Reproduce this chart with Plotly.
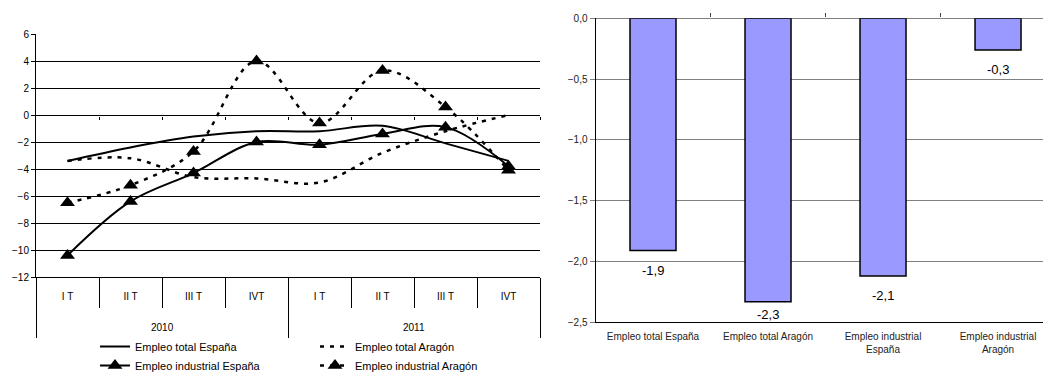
import plotly.graph_objects as go

# ---------------- data ----------------
years = ["2010"] * 4 + ["2011"] * 4
quarters = ["I T", "II T", "III T", "IVT"] * 2

total_es = [-3.4, -2.4, -1.6, -1.2, -1.2, -0.8, -2.1, -3.4]
total_ar = [-3.4, -3.2, -4.6, -4.7, -5.0, -2.8, -1.2, 0.0]
ind_es = [-10.4, -6.4, -4.3, -2.0, -2.2, -1.4, -0.9, -3.8]
ind_ar = [-6.5, -5.2, -2.7, 4.0, -0.6, 3.3, 0.6, -4.1]

bar_cats = ["Empleo total España", "Empleo total Aragón",
            "Empleo industrial<br>España", "Empleo industrial<br>Aragón"]
bar_values = [-1.91, -2.33, -2.12, -0.26]

FONT = "Arial, Liberation Sans, sans-serif"
W, H = 1043, 376

n = len(quarters)
xi = list(range(n))                              # category positions on the left chart
bounds_inner = [i + 0.5 for i in range(n - 1)]   # boundaries between quarters
year_names = sorted(set(years))
year_idx = {y: [i for i in xi if years[i] == y] for y in year_names}
bounds_outer = [-0.5] + [max(year_idx[y]) + 0.5 for y in year_names]

fig = go.Figure()

fig.add_trace(go.Scatter(x=xi, y=total_es, name="Empleo total España", mode="lines",
                         line=dict(color="black", width=2, shape="spline"),
                         legend="legend", xaxis="x", yaxis="y"))
fig.add_trace(go.Scatter(x=xi, y=ind_es, name="Empleo industrial España", mode="lines+markers",
                         line=dict(color="black", width=2, shape="spline"),
                         marker=dict(symbol="triangle-up", size=13, color="black"),
                         legend="legend", xaxis="x", yaxis="y"))
fig.add_trace(go.Scatter(x=xi, y=total_ar, name="Empleo total Aragón", mode="lines",
                         line=dict(color="black", width=2.5, shape="spline", dash="4px,6px"),
                         legend="legend2", xaxis="x", yaxis="y"))
fig.add_trace(go.Scatter(x=xi, y=ind_ar, name="Empleo industrial Aragón", mode="lines+markers",
                         line=dict(color="black", width=2.5, shape="spline", dash="4px,6px"),
                         marker=dict(symbol="triangle-up", size=13, color="black"),
                         legend="legend2", xaxis="x", yaxis="y"))

# empty traces that carry the tick-only helper axes
for ax, yax in [("x3", "y"), ("x5", "y"), ("x6", "y"), ("x4", "y2")]:
    fig.add_trace(go.Scatter(x=[], y=[], xaxis=ax, yaxis=yax, showlegend=False, hoverinfo="skip"))

fig.add_trace(go.Bar(x=bar_cats, y=bar_values, xaxis="x2", yaxis="y2", showlegend=False,
                     marker=dict(color="#9999FF", line=dict(color="black", width=1.5))))

# right chart pixel geometry (value labels kept inside the plot area like Excel does)
R_TOP, R_BOT = 18.3, 322.3
R_MIN, R_MAX = -2.5, 0.0
px_per_unit = (R_BOT - R_TOP) / (R_MAX - R_MIN)
for c, v in zip(bar_cats, bar_values):
    room = (v - R_MIN) * px_per_unit
    shift = -min(10, max(room - 17, 0))
    fig.add_annotation(x=c, y=v, xref="x2", yref="y2", text=f"{v:.1f}".replace(".", ","),
                       showarrow=False, yanchor="top", yshift=shift,
                       font=dict(size=13, color="black", family=FONT))

# year labels (outer level of the left category axis)
for y in year_names:
    idx = year_idx[y]
    fig.add_annotation(x=sum(idx) / len(idx), y=(H - 327) / H, xref="x", yref="paper",
                       text=y, showarrow=False, yanchor="middle",
                       font=dict(size=10, color="black", family=FONT))

y0_left = (H - 115.7) / H
L_DOM = [36 / W, 540 / W]
XR = [-0.5, n - 0.5]

fig.update_layout(
    width=W, height=H,
    margin=dict(l=0, r=0, t=0, b=0, autoexpand=False),
    paper_bgcolor="white", plot_bgcolor="white",
    separators=",.",
    font=dict(family=FONT, size=10, color="black"),
    bargap=0.6,
    # main left x axis: bottom line + quarter boundary ticks
    xaxis=dict(domain=L_DOM, anchor="y", type="linear", range=XR, automargin=False,
               showline=True, linecolor="black", linewidth=1,
               tickvals=bounds_inner, ticks="outside", ticklen=30, tickcolor="black",
               showticklabels=False, showgrid=False, zeroline=False),
    # quarter labels
    xaxis5=dict(overlaying="x", anchor="y", type="linear", range=XR, automargin=False,
                tickvals=xi, ticktext=quarters, ticks="", ticklabelstandoff=12,
                showline=False, showgrid=False, zeroline=False,
                tickfont=dict(size=10, color="black")),
    # year dividers
    xaxis6=dict(overlaying="x", anchor="y", type="linear", range=XR, automargin=False,
                tickvals=bounds_outer, ticks="outside", ticklen=60, tickcolor="black",
                showticklabels=False, showline=False, showgrid=False, zeroline=False),
    yaxis=dict(domain=[(H - 277) / H, (H - 34) / H], anchor="x", range=[-12, 6], dtick=2,
               automargin=False,
               showgrid=True, gridcolor="black", gridwidth=1, zeroline=False,
               showline=True, linecolor="black", ticks="outside", ticklen=4, tickcolor="black",
               tickfont=dict(size=10, color="black")),
    # small ticks on the zero line
    xaxis3=dict(overlaying="x", anchor="free", position=y0_left, type="linear", automargin=False,
                range=XR, tickvals=bounds_inner + [n - 0.5],
                ticks="outside", ticklen=3, tickcolor="black", showticklabels=False,
                showgrid=False, showline=False, zeroline=False),
    xaxis2=dict(domain=[595.5 / W, 1.0], anchor="y2", type="category", range=[-0.5, 3.391],
                automargin=False, ticklabelstandoff=5,
                showline=True, linecolor="black", linewidth=1, ticks="", showgrid=False,
                tickfont=dict(size=10, color="#222222")),
    yaxis2=dict(domain=[(H - R_BOT) / H, (H - R_TOP) / H], anchor="x2", range=[R_MIN, R_MAX],
                dtick=0.5, automargin=False,
                tickformat=".1f", showgrid=True, gridcolor="#808080", gridwidth=1,
                zeroline=True, zerolinecolor="#808080", zerolinewidth=1,
                showline=True, linecolor="black", ticks="outside", ticklen=5, tickcolor="#808080",
                tickfont=dict(size=10, color="#222222")),
    xaxis4=dict(overlaying="x2", anchor="y2", side="top", type="linear", range=[-0.5, 3.391],
                automargin=False,
                tickvals=[0.5, 1.5, 2.5], ticks="outside", ticklen=4, tickcolor="#404040",
                showticklabels=False, showgrid=False, showline=False, zeroline=False),
    legend=dict(x=95 / W, y=(H - 332) / H, xanchor="left", yanchor="top",
                orientation="v", bgcolor="rgba(0,0,0,0)", font=dict(size=11, color="black"),
                tracegroupgap=0),
    legend2=dict(x=315 / W, y=(H - 332) / H, xanchor="left", yanchor="top",
                 orientation="v", bgcolor="rgba(0,0,0,0)", font=dict(size=11, color="black"),
                 tracegroupgap=0),
)

fig.write_html("out.html", config={"displayModeBar": False},
               post_script="document.body.style.margin='0';document.body.style.overflow='hidden';")
